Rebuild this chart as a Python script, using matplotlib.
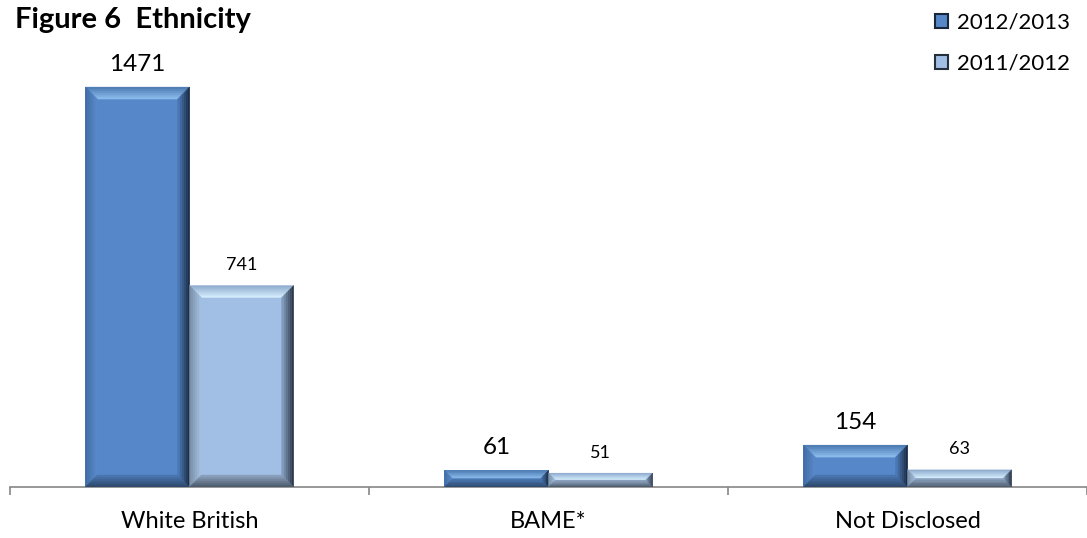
import matplotlib.pyplot as plt
import numpy as np
from matplotlib.patches import Polygon, Patch
from matplotlib.colors import to_rgb

categories = ['White British', 'BAME*', 'Not Disclosed']
series_names = ['2012/2013', '2011/2012']
vals_2013 = [1471, 61, 154]
vals_2012 = [741, 51, 63]

plt.rcParams['font.family'] = ['Lato', 'DejaVu Sans']

# face colour, then (outer, inner) pairs for top / left / right / bottom bevels
shades = {
    '2012/2013': {'face': '#5687C8',
                  'top': ('#4a78b0', '#8fc0f0'), 'left': ('#3f6aa3', '#5a8bcb'),
                  'right': ('#18263a', '#4f7fbf'), 'bottom': ('#2c4668', '#4a78b5')},
    '2011/2012': {'face': '#A1BFE4',
                  'top': ('#8aa8cc', '#d8f0ff'), 'left': ('#75899f', '#a6c3e6'),
                  'right': ('#262f3c', '#8aa4c6'), 'bottom': ('#485666', '#8fa5c2')},
}

fig = plt.figure(figsize=(10.87, 5.38), dpi=100)
ax = fig.add_axes([10/1087, 1 - 487/538, 1077/1087, 435/538])

x = np.arange(len(categories))
w = 0.29
bars1 = ax.bar(x - w/2, vals_2013, w, color=shades['2012/2013']['face'], zorder=2)
bars2 = ax.bar(x + w/2, vals_2012, w, color=shades['2011/2012']['face'], zorder=2)

ax.set_xlim(-0.5, 2.5)
ax.set_ylim(0, 1600)


def mix(c1, c2, t):
    a, b = np.array(to_rgb(c1)), np.array(to_rgb(c2))
    return tuple(a + (b - a) * t)


def bevel(bars, cols, px=12, n=6):
    to_disp = ax.transData
    to_data = ax.transData.inverted()
    for b in bars:
        (x0, y0), (x1, y1) = to_disp.transform([(b.get_x(), 0), (b.get_x() + b.get_width(), b.get_height())])
        bh = min(px, (y1 - y0) / 2)
        bw = px if (y1 - y0) >= 2 * px else max(bh, 6)

        def ring(t):
            return [(x0 + bw*t, y0 + bh*t), (x1 - bw*t, y0 + bh*t),
                    (x1 - bw*t, y1 - bh*t), (x0 + bw*t, y1 - bh*t)]
        for k in range(n):
            o, i = ring(k / n), ring((k + 1) / n)
            t = (k + 0.5) / n
            sides = [
                ([o[3], o[2], i[2], i[3]], 'top'),
                ([o[0], o[3], i[3], i[0]], 'left'),
                ([o[1], o[2], i[2], i[1]], 'right'),
                ([o[0], o[1], i[1], i[0]], 'bottom'),
            ]
            for pts, s in sides:
                c = mix(cols[s][0], cols[s][1], t)
                ax.add_patch(Polygon(to_data.transform(pts), closed=True, facecolor=c,
                                     edgecolor=c, linewidth=0.3, zorder=3))


bevel(bars1, shades['2012/2013'])
bevel(bars2, shades['2011/2012'])

for b, v in zip(bars1, vals_2013):
    ax.annotate(str(v), (b.get_x() + b.get_width()/2, v), xytext=(0, 9),
                textcoords='offset points', ha='center', va='bottom', fontsize=17.5)
for b, v in zip(bars2, vals_2012):
    ax.annotate(str(v), (b.get_x() + b.get_width()/2, v), xytext=(0, 9),
                textcoords='offset points', ha='center', va='bottom', fontsize=13)

for s in ['top', 'right', 'left']:
    ax.spines[s].set_visible(False)
ax.spines['bottom'].set_color('#868686')
ax.spines['bottom'].set_linewidth(1.2)
ax.set_yticks([])
ax.set_xticks(x)
ax.set_xticklabels(categories, fontsize=17)
ax.tick_params(axis='x', which='major', length=0, pad=17)
ax.set_xticks([-0.5, 0.5, 1.5, 2.5], minor=True)
ax.tick_params(axis='x', which='minor', length=6, color='#868686', width=1.2)

fig.text(15/1087, 1 - 20/538, 'Figure 6  Ethnicity', fontsize=21, fontweight='bold',
         va='center', ha='left')

handles = [Patch(facecolor=shades[n]['face'], edgecolor=shades[n]['right'][0], linewidth=1.5)
           for n in series_names]
fig.legend(handles, series_names, loc='upper left', bbox_to_anchor=(926/1087, 1 - 4/538),
           frameon=False, fontsize=16, handlelength=0.6, handleheight=0.6,
           handletextpad=0.4, labelspacing=0.95, borderaxespad=0)

fig.savefig('out.png', dpi=100)
